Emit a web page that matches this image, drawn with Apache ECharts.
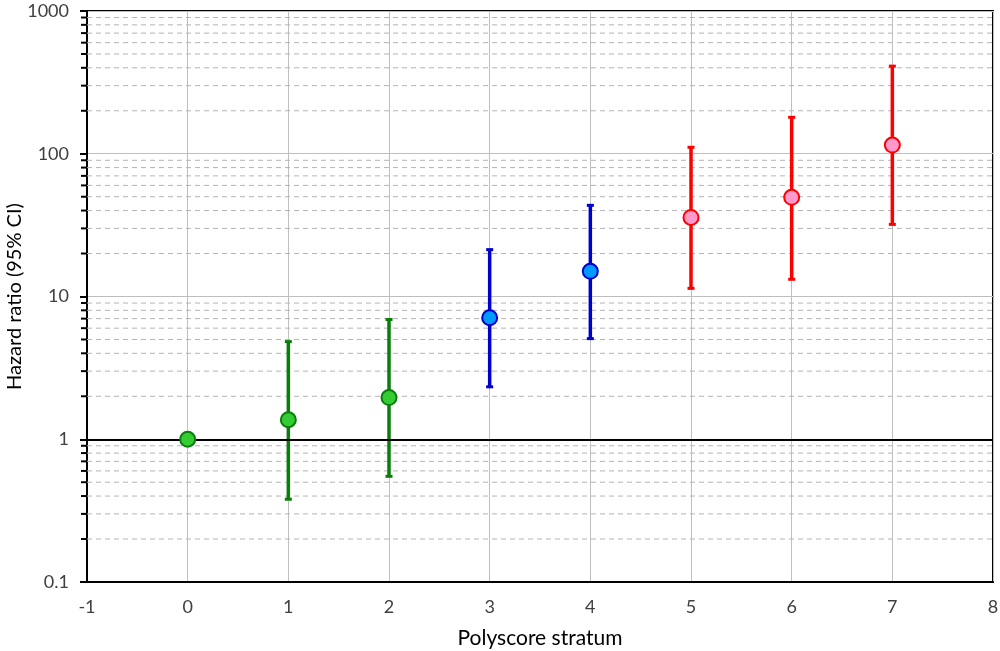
<!DOCTYPE html>
<html><head><meta charset="utf-8">
<script src="https://cdn.jsdelivr.net/npm/echarts@6/dist/echarts.min.js"></script>
<style>html,body{margin:0;padding:0;background:#fff}#c{width:1000px;height:651px}</style>
</head><body><div id="c"></div>
<script>
const strata = [0, 1, 2, 3, 4, 5, 6, 7];
const hazard = [1.0, 1.37, 1.96, 7.1, 15.0, 35.8, 49.5, 115];
const lowerCI = [null, 0.38, 0.55, 2.33, 5.07, 11.4, 13.2, 32];
const upperCI = [null, 4.83, 6.9, 21.3, 43.5, 111, 180, 411];
const groupIdx = [0, 0, 0, 1, 1, 2, 2, 2];
const minorValues = [0.2,0.3,0.4,0.5,0.6,0.7,0.8,0.9, 2,3,4,5,6,7,8,9, 20,30,40,50,60,70,80,90, 200,300,400,500,600,700,800,900];

const groups = [
  {line:'#0a7d0a', fill:'#33cc33'},
  {line:'#0000cc', fill:'#0099ff'},
  {line:'#ff0000', fill:'#ff99cc'}
];
const FONT = 'Lato, "Open Sans", sans-serif';

const chart = echarts.init(document.getElementById('c'));
const series = [];

series.push({
  type:'custom', z:1, silent:true,
  encode:{x:0,y:1},
  data: minorValues.map(v=>[-1,v]),
  renderItem:function(params, api){
    const v = api.value(1);
    const a = api.coord([-1, v]);
    const b = api.coord([8, v]);
    return {type:'group', children:[
      {type:'line', shape:{x1:a[0], y1:a[1], x2:b[0], y2:b[1]},
       style:{stroke:'#b4b4b4', lineWidth:1, lineDash:[5,4]}},
      {type:'line', shape:{x1:a[0]-6, y1:a[1], x2:a[0], y2:a[1]},
       style:{stroke:'#000', lineWidth:2}}
    ]};
  }
});

series.push({
  type:'line', data:[], z:3,
  markLine:{silent:true, symbol:'none', label:{show:false},
    lineStyle:{color:'#000', width:2, type:'solid'},
    data:[{yAxis:1}]}
});

groups.forEach((g, gi)=>{
  const idx = strata.map((s,i)=>i).filter(i=>groupIdx[i]===gi);
  series.push({
    type:'custom', z:4,
    encode:{x:0,y:[1,2]},
    data: idx.filter(i=>lowerCI[i]!=null).map(i=>[strata[i], lowerCI[i], upperCI[i]]),
    renderItem:function(params, api){
      const x = api.value(0);
      const lo = api.coord([x, api.value(1)]);
      const hi = api.coord([x, api.value(2)]);
      return {type:'group', children:[
        {type:'line', shape:{x1:lo[0], y1:lo[1], x2:hi[0], y2:hi[1]}, style:{stroke:g.line, lineWidth:3.5}},
        {type:'rect', shape:{x:hi[0]-3.5, y:hi[1]-1.5, width:7, height:3}, style:{fill:g.line}},
        {type:'rect', shape:{x:lo[0]-3.5, y:lo[1]-1.5, width:7, height:3}, style:{fill:g.line}}
      ]};
    }
  });
  series.push({
    type:'scatter', z:5, symbol:'circle', symbolSize:15,
    data: idx.map(i=>[strata[i], hazard[i]]),
    itemStyle:{color:g.fill, borderColor:g.line, borderWidth:2, opacity:1}
  });
});

chart.setOption({
  animation:false,
  grid:{left:87, right:7, top:11, bottom:69, containLabel:false, outerBoundsMode:'none',
    show:true, borderColor:'#000', borderWidth:2, backgroundColor:'transparent'},
  xAxis:{type:'value', min:-1, max:8, interval:1,
    name:'Polyscore stratum', nameLocation:'middle', nameGap:46, nameMoveOverlap:false,
    nameTextStyle:{fontFamily:FONT, fontSize:21, color:'#000'},
    axisLine:{show:true, onZero:false, lineStyle:{color:'#000', width:2}},
    axisTick:{show:false},
    axisLabel:{fontFamily:FONT, fontSize:18, color:'#404040', margin:16},
    splitLine:{show:true, lineStyle:{color:'#bfbfbf', width:1}}
  },
  yAxis:{type:'log', logBase:10, min:0.1, max:1000,
    name:'Hazard ratio (95% CI)', nameLocation:'middle', nameGap:62, nameRotate:90, nameMoveOverlap:false,
    nameTextStyle:{fontFamily:FONT, fontSize:20, color:'#000'},
    axisLine:{show:true, onZero:false, lineStyle:{color:'#000', width:2}},
    axisTick:{show:true, inside:false, length:7, lineStyle:{color:'#000', width:2}},
    axisLabel:{fontFamily:FONT, fontSize:18, color:'#404040', margin:18,
      formatter:function(v){return String(+v.toPrecision(6));}},
    splitLine:{show:true, lineStyle:{color:'#bfbfbf', width:1}}
  },
  series: series
});
</script></body></html>
